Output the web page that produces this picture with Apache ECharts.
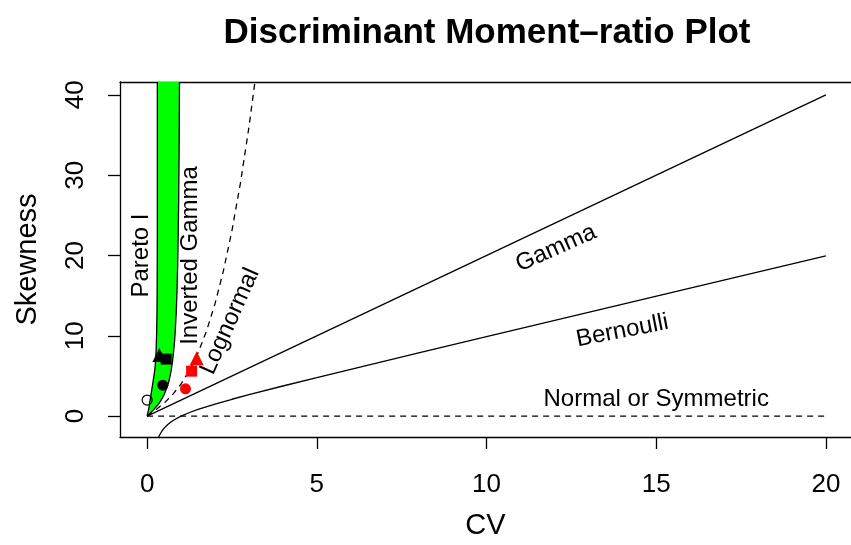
<!DOCTYPE html>
<html>
<head>
<meta charset="utf-8">
<script src="https://cdn.jsdelivr.net/npm/echarts@6/dist/echarts.min.js"></script>
<style>
  html, body { margin: 0; padding: 0; background: #fff; }
  #chart { width: 851px; height: 545px; }
</style>
</head>
<body>
<div id="chart"></div>
<script>
// tick labels
var xTicks = [0, 5, 10, 15, 20];
var yTicks = [0, 10, 20, 30, 40];

// boundary curves, [CV, skewness]
var paretoCurve = [[0, 0], [0.05, 1.0], [0.09, 2.1], [0.13, 3.1], [0.17, 4.2], [0.21, 5.3], [0.24, 6.3],
  [0.265, 8.3], [0.28, 10.4], [0.29, 13], [0.295, 16], [0.3, 22], [0.3, 41.6]];
var invGammaCurve = [[0, 0], [0.1, 0.404], [0.2, 0.833], [0.3, 1.319], [0.4, 1.905], [0.5, 2.667],
  [0.6, 3.75], [0.65, 4.502], [0.7, 5.49], [0.75, 6.857], [0.8, 8.889], [0.83, 10.67], [0.86, 13.21],
  [0.88, 15.6], [0.9, 18.95], [0.92, 23.96], [0.93, 27.47], [0.94, 32.32], [0.95, 38.97], [0.953, 41.6]];
var lognormalCurve = [[0, 0], [0.25, 0.766], [0.5, 1.625], [0.75, 2.672], [1, 4], [1.25, 5.703],
  [1.5, 7.875], [1.75, 10.61], [2, 14], [2.25, 18.14], [2.5, 23.13], [2.75, 29.05], [3, 36], [3.2, 42.37]];
var gammaLine = [[0, 0], [20, 40]];
var bernoulliCurve = [[0.3, -3.033], [0.35, -2.507], [0.4, -2.1], [0.45, -1.772], [0.5, -1.5],
  [0.6, -1.067], [0.7, -0.729], [0.8, -0.45], [1, 0], [1.25, 0.45], [1.5, 0.833], [2, 1.5], [2.5, 2.1],
  [3, 2.667], [4, 3.75], [5, 4.8], [6, 5.833], [8, 7.875], [10, 9.9], [13, 12.92], [16, 15.94], [20, 19.95]];
var normalLine = [[0, 0], [20, 0]];

// sample points
var openCircle = [[0.0, 2.0]];
var blackCircle = [[0.46, 3.85]];
var blackTriangle = [[0.36, 7.6]];
var blackSquare = [[0.56, 7.1]];
var redCircle = [[1.13, 3.4]];
var redSquare = [[1.31, 5.6]];
var redTriangle = [[1.46, 7.2]];

// curve names
var curveNames = ['Pareto I', 'Inverted Gamma', 'Lognormal', 'Gamma', 'Bernoulli', 'Normal or Symmetric'];
// where each name sits: [CV, skewness, angle in degrees]
var nameSpots = [[-0.18, 20, 90], [1.27, 20, 90], [2.44, 11.8, 66], [12.05, 20.9, 24], [14.0, 10.6, 11], [15.0, 2.1, 0]];

var font = 'Liberation Sans, Arial, Helvetica, sans-serif';
var boxLine = { color: '#000', width: 1.3 };
var chart = echarts.init(document.getElementById('chart'));

function curve(data, dashed) {
  return {
    type: 'line', data: data, symbol: 'none', silent: true, z: 3,
    lineStyle: { color: '#000', width: 1.3, type: dashed ? [6, 5] : 'solid' }
  };
}
function points(data, symbol, color, size, hollow) {
  return {
    type: 'scatter', data: data, symbol: symbol, symbolSize: size, z: 5,
    itemStyle: hollow ? { color: 'rgba(0,0,0,0)', borderColor: color, borderWidth: 1.2, opacity: 1 }
                      : { color: color, opacity: 1 }
  };
}

chart.setOption({
  animation: false,
  title: {
    text: 'Discriminant Moment\u2013ratio Plot',
    left: 482, top: 11, textAlign: 'center',
    textStyle: { fontFamily: font, fontWeight: 'bold', fontSize: 35, color: '#000' }
  },
  // plot box runs past the right edge of the page, so only left/top/bottom sides show
  grid: { left: 120, top: 82, right: 0, height: 356 },
  xAxis: [{
    type: 'value', min: -0.8, max: 20.74, position: 'bottom',
    name: 'CV', nameLocation: 'middle', nameGap: 74,
    nameTextStyle: { fontFamily: font, fontSize: 29, color: '#000' },
    axisLine: { show: true, onZero: false, lineStyle: boxLine },
    axisTick: { show: true, inside: false, length: 12, customValues: xTicks, lineStyle: boxLine },
    axisLabel: { customValues: xTicks, margin: 35, fontFamily: font, fontSize: 26, color: '#000' },
    splitLine: { show: false }
  }, {
    type: 'value', min: -0.8, max: 20.74, position: 'top',
    axisLine: { show: true, onZero: false, lineStyle: boxLine },
    axisTick: { show: false }, axisLabel: { show: false }, splitLine: { show: false }
  }],
  yAxis: {
    type: 'value', min: -2.6, max: 41.6,
    name: 'Skewness', nameLocation: 'middle', nameGap: 78,
    nameTextStyle: { fontFamily: font, fontSize: 29, color: '#000' },
    axisLine: { show: true, onZero: false, lineStyle: boxLine },
    axisTick: { show: true, inside: false, length: 12, customValues: yTicks, lineStyle: boxLine },
    axisLabel: { customValues: yTicks, rotate: 90, margin: 31, fontFamily: font, fontSize: 26, color: '#000' },
    splitLine: { show: false }
  },
  series: [
    {
      // green band between Pareto I and Inverted Gamma
      type: 'custom', silent: true, z: 2, data: [0],
      renderItem: function (params, api) {
        var pts = paretoCurve.map(function (p) { return api.coord(p); });
        invGammaCurve.slice().reverse().forEach(function (p) { pts.push(api.coord(p)); });
        return { type: 'polygon', shape: { points: pts }, style: { fill: '#00ff00', stroke: null } };
      }
    },
    curve(paretoCurve, false),
    curve(invGammaCurve, false),
    curve(lognormalCurve, true),
    curve(gammaLine, false),
    curve(bernoulliCurve, false),
    curve(normalLine, true),
    points(openCircle, 'circle', '#000', 10, true),
    points(blackCircle, 'circle', '#000', 11),
    points(blackTriangle, 'triangle', '#000', 14),
    points(blackSquare, 'rect', '#000', 11),
    points(redCircle, 'circle', '#ff0000', 11),
    points(redSquare, 'rect', '#ff0000', 11),
    points(redTriangle, 'triangle', '#ff0000', 14),
    {
      type: 'custom', silent: true, z: 6, data: curveNames.map(function (n, i) { return i; }),
      renderItem: function (params, api) {
        var i = params.dataIndex;
        var s = nameSpots[i];
        var c = api.coord([s[0], s[1]]);
        return {
          type: 'text', x: c[0], y: c[1], rotation: s[2] * Math.PI / 180,
          style: { text: curveNames[i], fill: '#000', font: '24px ' + font, align: 'center', verticalAlign: 'middle' }
        };
      }
    }
  ]
});
</script>
</body>
</html>
